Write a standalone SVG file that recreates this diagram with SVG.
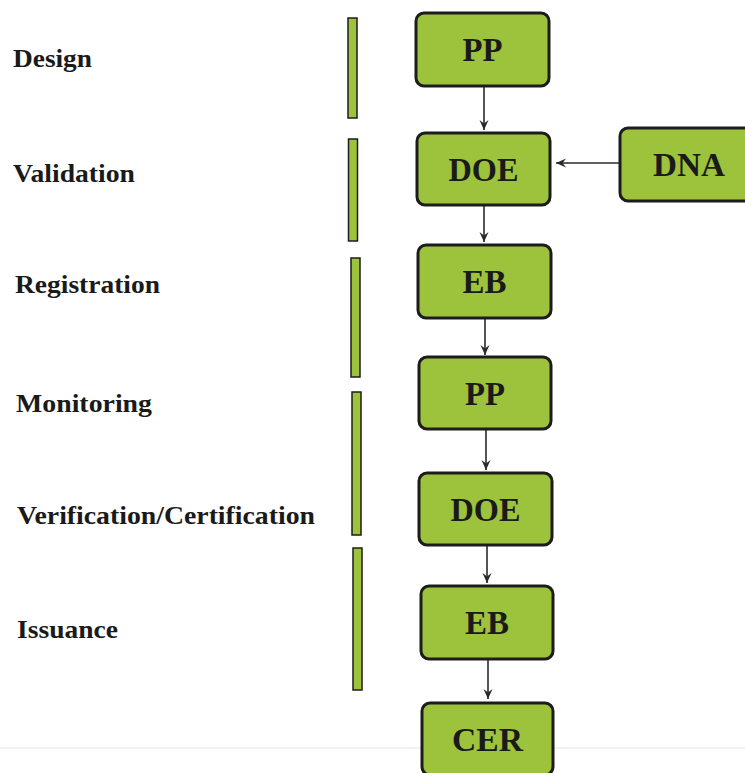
<svg xmlns="http://www.w3.org/2000/svg" width="745" height="773" viewBox="0 0 745 773">
<style>
  .bg { fill: #ffffff; }
  .box { fill: #9dc23b; stroke: #1c1c1c; stroke-width: 3; }
  .bar { fill: #9dc23b; stroke: #1c1c1c; stroke-width: 1.5; }
  .nt { font-family: "Liberation Serif", "Times New Roman", serif; font-weight: bold; font-size: 33px; fill: #1a1a1a; text-anchor: middle; }
  .lbl { font-family: "Liberation Serif", "Times New Roman", serif; font-weight: bold; font-size: 25px; fill: #1a1a1a; }
  .conn { stroke: #2a2a2a; stroke-width: 1.6; fill: none; marker-end: url(#ah); }
  .rule { stroke: #ece2ec; stroke-width: 1.2; }
</style>
<defs>
  <marker id="ah" markerWidth="12" markerHeight="12" refX="10" refY="6" orient="auto" markerUnits="userSpaceOnUse">
    <path d="M0,1.5 L10,6 L0,10.5 L3.5,6 Z" fill="#2a2a2a"/>
  </marker>
</defs>
<rect class="bg" x="0" y="0" width="745" height="773"/>
<line class="rule" x1="0" y1="748" x2="745" y2="748"/>

<g id="labels">
  <text class="lbl" x="13" y="67" textLength="79" lengthAdjust="spacingAndGlyphs">Design</text>
  <text class="lbl" x="13" y="182" textLength="122" lengthAdjust="spacingAndGlyphs">Validation</text>
  <text class="lbl" x="15" y="293" textLength="145" lengthAdjust="spacingAndGlyphs">Registration</text>
  <text class="lbl" x="16" y="412" textLength="136" lengthAdjust="spacingAndGlyphs">Monitoring</text>
  <text class="lbl" x="17" y="524" textLength="298" lengthAdjust="spacingAndGlyphs">Verification/Certification</text>
  <text class="lbl" x="17" y="638" textLength="101" lengthAdjust="spacingAndGlyphs">Issuance</text>
</g>

<g id="bars">
  <rect class="bar" x="348" y="18" width="9" height="100"/>
  <rect class="bar" x="348.5" y="139" width="9" height="102"/>
  <rect class="bar" x="351" y="258" width="9" height="119"/>
  <rect class="bar" x="352" y="392" width="9" height="143"/>
  <rect class="bar" x="353" y="548" width="9" height="142"/>
</g>

<g id="connectors">
  <line class="conn" x1="484" y1="86" x2="484" y2="130"/>
  <line class="conn" x1="484" y1="205" x2="484" y2="242"/>
  <line class="conn" x1="485" y1="318" x2="485" y2="355"/>
  <line class="conn" x1="486" y1="429" x2="486" y2="470"/>
  <line class="conn" x1="487" y1="545" x2="487" y2="583"/>
  <line class="conn" x1="488" y1="659" x2="488" y2="699"/>
  <line class="conn" x1="620" y1="163" x2="556" y2="163"/>
</g>

<g id="node-pp1">
  <rect class="box" x="416" y="13" width="133" height="73" rx="8"/>
  <text class="nt" x="482.5" y="61" textLength="40" lengthAdjust="spacingAndGlyphs">PP</text>
</g>
<g id="node-doe1">
  <rect class="box" x="417" y="133" width="133" height="72" rx="8"/>
  <text class="nt" x="483.5" y="181" textLength="70" lengthAdjust="spacingAndGlyphs">DOE</text>
</g>
<g id="node-dna">
  <rect class="box" x="620" y="128" width="135" height="73" rx="8"/>
  <text class="nt" x="689" y="176" textLength="72" lengthAdjust="spacingAndGlyphs">DNA</text>
</g>
<g id="node-eb1">
  <rect class="box" x="418" y="245" width="133" height="73" rx="8"/>
  <text class="nt" x="484.5" y="293" textLength="44" lengthAdjust="spacingAndGlyphs">EB</text>
</g>
<g id="node-pp2">
  <rect class="box" x="419" y="357" width="132" height="72" rx="8"/>
  <text class="nt" x="485" y="405" textLength="40" lengthAdjust="spacingAndGlyphs">PP</text>
</g>
<g id="node-doe2">
  <rect class="box" x="419" y="473" width="133" height="72" rx="8"/>
  <text class="nt" x="485.5" y="521" textLength="70" lengthAdjust="spacingAndGlyphs">DOE</text>
</g>
<g id="node-eb2">
  <rect class="box" x="421" y="586" width="132" height="73" rx="8"/>
  <text class="nt" x="487" y="634" textLength="44" lengthAdjust="spacingAndGlyphs">EB</text>
</g>
<g id="node-cer">
  <rect class="box" x="422" y="703" width="131" height="72" rx="8"/>
  <text class="nt" x="487.5" y="751" textLength="71" lengthAdjust="spacingAndGlyphs">CER</text>
</g>
</svg>
